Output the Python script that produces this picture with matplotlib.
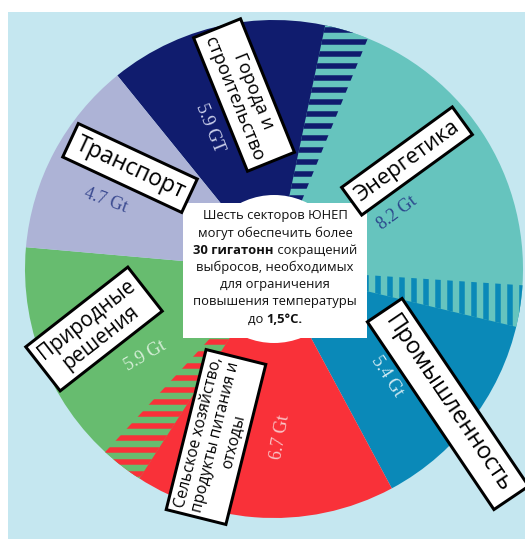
import matplotlib
matplotlib.use("Agg")
import matplotlib.pyplot as plt
from matplotlib.patches import Wedge, Circle, Rectangle

# ---- data -------------------------------------------------------------
sectors = [
    "Города и\nстроительство",
    "Энергетика",
    "Промышленность",
    "Сельское хозяйство,\nпродукты питания и\nотходы",
    "Природные\nрешения",
    "Транспорт",
]
potential_gt = [5.9, 8.2, 5.4, 6.7, 5.9, 4.7]
units = ["GT", "Gt", "Gt", "Gt", "Gt", "Gt"]
sector_colors = ["#101C6E", "#66C4BE", "#0A89B8", "#F93139", "#67BC6F", "#ADB3D6"]
value_colors = ["#D0D4EE", "#2B478C", "#D3ECF4", "#F9C6C8", "#D6EFD8", "#3A4A90"]

# reductions shared across a sector border (drawn striped), in Gt on each side
shared_border = [1, 2, 4]          # border at the start of this sector
shared_gt_before = [0.70, 0.53, 0.47]
shared_gt_after = [0.35, 0.46, 0.55]
shared_stripe = [0, 2, 3]          # sector colour of the stripes
shared_ground = [1, 1, 4]          # sector colour under the stripes
shared_hatch = ["-", "|", "-"]

summary_lines = [
    [("Шесть секторов ЮНЕП", "normal")],
    [("могут обеспечить более", "normal")],
    [("30 гигатонн", "bold"), (" сокращений", "normal")],
    [("выбросов, необходимых", "normal")],
    [("для ограничения", "normal")],
    [("повышения температуры", "normal")],
    [("до ", "normal"), ("1,5°C.", "bold")],
]

# ---- layout -----------------------------------------------------------
W, H = 525, 539
CX, CY, R = 274, 269, 249
R_HOLE = 74
START = -39            # clockwise from 12 o'clock
BG = "#C5E7F0"
SANS = ["Open Sans", "DejaVu Sans"]
SERIF = ["Liberation Serif", "DejaVu Serif"]

plt.rcParams["hatch.linewidth"] = 5.5

fig = plt.figure(figsize=(W / 72, H / 72), dpi=72, facecolor="white")
ax = fig.add_axes([0, 0, 1, 1])

ax.add_patch(Rectangle((8, 12), W - 8, H - 12, facecolor=BG, linewidth=0, zorder=0))

# y axis runs downwards, so counter-clockwise data angles appear clockwise
wedges, _ = ax.pie(potential_gt, colors=sector_colors, startangle=START - 90,
                   counterclock=True, center=(CX, CY), radius=R,
                   wedgeprops=dict(linewidth=0), frame=True)
total = sum(potential_gt)
cum = [sum(potential_gt[:i]) for i in range(len(potential_gt) + 1)]


def gt_to_theta(g):
    return START - 90 + g / total * 360.0


for b, gb, ga, s, g, h in zip(shared_border, shared_gt_before, shared_gt_after,
                              shared_stripe, shared_ground, shared_hatch):
    t1 = gt_to_theta(cum[b] - gb)
    t2 = gt_to_theta(cum[b] + ga)
    ax.add_patch(Wedge((CX, CY), R, t1, t2, facecolor=sector_colors[g],
                       edgecolor=sector_colors[s], hatch=h, linewidth=0, zorder=2))

ax.add_patch(Circle((CX, CY), R_HOLE, facecolor="white", linewidth=0, zorder=3))
ax.add_patch(Rectangle((183, 203), 184, 135, facecolor="white", linewidth=0, zorder=3))

ax.set_xlim(0, W)
ax.set_ylim(H, 0)
ax.set_aspect("auto")
ax.axis("off")

# ---- central summary text --------------------------------------------
renderer = fig.canvas.get_renderer()
for i, segs in enumerate(summary_lines):
    y = 216 + 17.2 * i
    texts = []
    for s, wgt in segs:
        t = ax.text(0, y, s, fontsize=13, fontweight=wgt, family=SANS,
                    ha="left", va="center", color="#111111", zorder=5)
        texts.append(t)
    widths = [t.get_window_extent(renderer).width for t in texts]
    x = CX + 1 - sum(widths) / 2
    for t, wd in zip(texts, widths):
        t.set_x(x)
        x += wd

# ---- sector name boxes -----------------------------------------------
box_specs = [  # x, y, rotation, font size, line spacing, padding
    (244, 95, -68, 18.5, 1.2, 0.32),
    (407, 161, 36, 22, 1.0, 0.3),
    (448, 404, -56, 23.5, 1.0, 0.38),
    (216, 437, 76, 15.5, 1.15, 0.32),
    (94, 329, 38, 20.5, 1.1, 0.3),
    (130, 168, -25, 23, 1.0, 0.28),
]
for name, (x, y, rot, fs, ls, pad) in zip(sectors, box_specs):
    ax.text(x, y, name, rotation=rot, rotation_mode="anchor", ha="center",
            va="center", multialignment="center", fontsize=fs, family=SANS,
            linespacing=ls, color="black", zorder=6,
            bbox=dict(boxstyle=f"square,pad={pad}", facecolor="white",
                      edgecolor="black", linewidth=3))

# ---- value labels -------------------------------------------------------
value_specs = [
    (210, 128, -68),
    (397, 213, 37),
    (387, 376, -57),
    (280, 437, 80),
    (145, 356, 30),
    (106, 200, -20),
]
for v, u, c, (x, y, rot) in zip(potential_gt, units, value_colors, value_specs):
    ax.text(x, y, f"{v} {u}", rotation=rot, rotation_mode="anchor", ha="center",
            va="center", fontsize=18, family=SERIF, color=c, zorder=4)

fig.savefig("out.png", dpi=72, facecolor="white")
